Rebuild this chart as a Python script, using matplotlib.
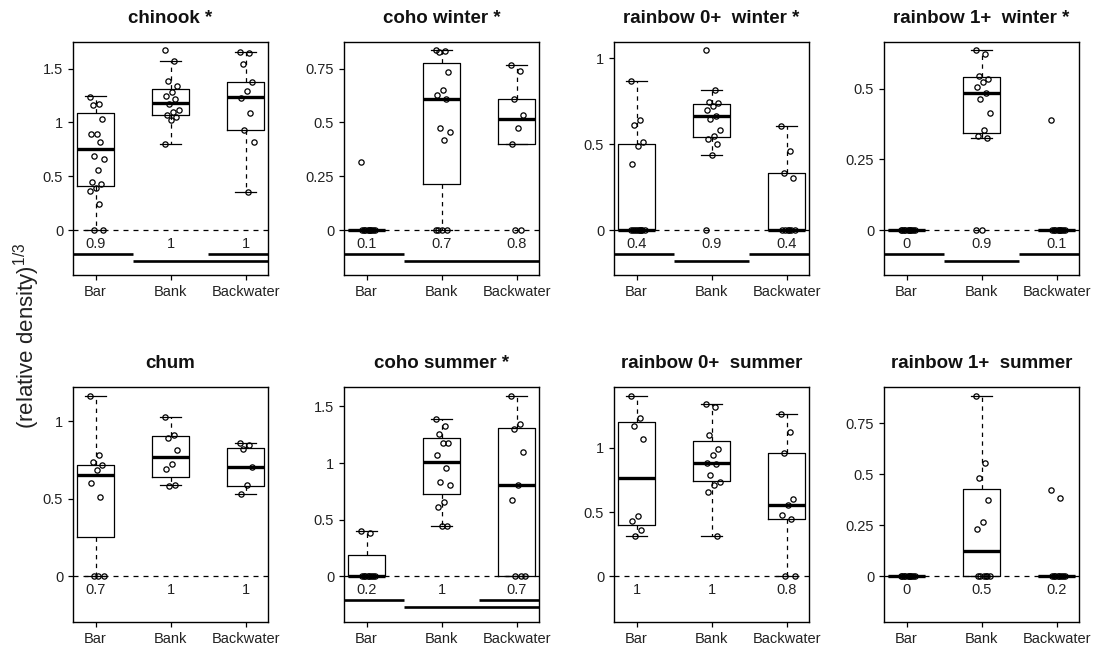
import matplotlib
matplotlib.use('Agg')
import matplotlib.pyplot as plt
from matplotlib.transforms import offset_copy

plt.rcParams['font.family'] = ['Liberation Sans', 'DejaVu Sans']
plt.rcParams['mathtext.fontset'] = 'custom'
plt.rcParams['mathtext.rm'] = 'Liberation Sans'
plt.rcParams['mathtext.it'] = 'Liberation Sans:italic'

habitats = ['Bar', 'Bank', 'Backwater']

# ---------------- data (cube-root relative density) ----------------
titles = ['chinook *', 'coho winter *', 'rainbow 0+  winter *', 'rainbow 1+  winter *',
          'chum', 'coho summer *', 'rainbow 0+  summer', 'rainbow 1+  summer']

# points per habitat: Bar, Bank, Backwater
chinook_pts = [
    [1.237, 1.169, 1.16, 1.03, 0.897, 0.897, 0.82, 0.687, 0.656, 0.557, 0.448, 0.427, 0.387, 0.365, 0.247, 0, 0],
    [1.676, 1.568, 1.386, 1.336, 1.284, 1.243, 1.22, 1.17, 1.12, 1.098, 1.067, 1.05, 1.027, 0.804],
    [1.652, 1.645, 1.547, 1.376, 1.293, 1.231, 1.089, 0.934, 0.82, 0.356]]
coho_w_pts = [
    [0.314, 0, 0, 0, 0, 0, 0, 0, 0, 0],
    [0.835, 0.83, 0.827, 0.734, 0.653, 0.626, 0.608, 0.475, 0.456, 0.418, 0, 0, 0, 0],
    [0.769, 0.737, 0.608, 0.533, 0.472, 0.40, 0, 0]]
rb0_w_pts = [
    [0.865, 0.642, 0.609, 0.513, 0.487, 0.383, 0, 0, 0, 0, 0, 0, 0, 0, 0],
    [1.044, 0.816, 0.745, 0.74, 0.72, 0.70, 0.663, 0.648, 0.584, 0.545, 0.532, 0.499, 0.439, 0],
    [0.603, 0.46, 0.333, 0.30, 0, 0, 0, 0, 0, 0]]
rb1_w_pts = [
    [0, 0, 0, 0, 0, 0, 0, 0, 0, 0],
    [0.638, 0.624, 0.546, 0.535, 0.524, 0.506, 0.485, 0.462, 0.414, 0.353, 0.332, 0.327, 0, 0],
    [0.39, 0, 0, 0, 0, 0, 0, 0, 0, 0]]
chum_pts = [
    [1.166, 0.781, 0.738, 0.72, 0.684, 0.604, 0.512, 0, 0, 0],
    [1.028, 0.91, 0.895, 0.813, 0.723, 0.695, 0.59, 0.585],
    [0.86, 0.845, 0.824, 0.705, 0.591, 0.533]]
coho_s_pts = [
    [0.40, 0.382, 0, 0, 0, 0, 0, 0, 0, 0],
    [1.391, 1.326, 1.259, 1.18, 1.18, 1.071, 0.956, 0.829, 0.803, 0.656, 0.61, 0.444, 0.444],
    [1.588, 1.347, 1.303, 1.097, 0.809, 0.671, 0, 0, 0]]
rb0_s_pts = [
    [1.408, 1.236, 1.169, 1.073, 0.468, 0.429, 0.358, 0.312],
    [1.345, 1.32, 1.099, 0.995, 0.948, 0.883, 0.873, 0.792, 0.735, 0.71, 0.657, 0.312],
    [1.262, 1.125, 0.964, 0.605, 0.558, 0.48, 0.45, 0, 0]]
rb1_s_pts = [
    [0, 0, 0, 0, 0, 0, 0, 0, 0, 0],
    [0.884, 0.555, 0.483, 0.372, 0.266, 0.233, 0, 0, 0, 0, 0, 0],
    [0.424, 0.385, 0, 0, 0, 0, 0, 0, 0, 0]]

# box stats per habitat: (whisker low, Q1, median, Q3, whisker high)
chinook_box = [(0, 0.408, 0.752, 1.089, 1.243), (0.804, 1.067, 1.18, 1.315, 1.568), (0.356, 0.934, 1.237, 1.376, 1.652)]
coho_w_box = [(0, 0, 0, 0, 0), (0, 0.212, 0.608, 0.778, 0.835), (0.402, 0.402, 0.515, 0.608, 0.769)]
rb0_w_box = [(0, 0, 0, 0.499, 0.865), (0.439, 0.542, 0.663, 0.731, 0.816), (0, 0, 0, 0.333, 0.603)]
rb1_w_box = [(0, 0, 0, 0, 0), (0.327, 0.344, 0.485, 0.541, 0.638), (0, 0, 0, 0, 0)]
chum_box = [(0, 0.254, 0.656, 0.72, 1.166), (0.587, 0.641, 0.77, 0.903, 1.028), (0.533, 0.583, 0.705, 0.828, 0.86)]
coho_s_box = [(0, 0, 0, 0.191, 0.40), (0.444, 0.724, 1.009, 1.224, 1.391), (0, 0, 0.809, 1.309, 1.588)]
rb0_s_box = [(0.312, 0.397, 0.769, 1.203, 1.408), (0.312, 0.743, 0.883, 1.052, 1.345), (0, 0.444, 0.558, 0.964, 1.262)]
rb1_s_box = [(0, 0, 0, 0, 0), (0, 0, 0.122, 0.426, 0.884), (0, 0, 0, 0, 0)]

# proportion of non-zero samples
chinook_prop = ['0.9', '1', '1']
coho_w_prop = ['0.1', '0.7', '0.8']
rb0_w_prop = ['0.4', '0.9', '0.4']
rb1_w_prop = ['0', '0.9', '0.1']
chum_prop = ['0.7', '1', '1']
coho_s_prop = ['0.2', '1', '0.7']
rb0_s_prop = ['1', '1', '0.8']
rb1_s_prop = ['0', '0.5', '0.2']

# significance groups
chinook_grp = ['a', 'b', 'ab']
coho_w_grp = ['a', 'b', 'b']
rb0_w_grp = ['a', 'b', 'a']
rb1_w_grp = ['a', 'b', 'a']
coho_s_grp = ['a', 'b', 'ab']

# y ticks
chinook_yt = [0, 0.5, 1, 1.5]
coho_w_yt = [0, 0.25, 0.5, 0.75]
rb0_w_yt = [0, 0.5, 1]
rb1_w_yt = [0, 0.25, 0.5]
chum_yt = [0, 0.5, 1]
coho_s_yt = [0, 0.5, 1, 1.5]
rb0_s_yt = [0, 0.5, 1]
rb1_s_yt = [0, 0.25, 0.5, 0.75]

panels = [
    (chinook_pts, chinook_box, chinook_prop, chinook_grp, chinook_yt),
    (coho_w_pts, coho_w_box, coho_w_prop, coho_w_grp, coho_w_yt),
    (rb0_w_pts, rb0_w_box, rb0_w_prop, rb0_w_grp, rb0_w_yt),
    (rb1_w_pts, rb1_w_box, rb1_w_prop, rb1_w_grp, rb1_w_yt),
    (chum_pts, chum_box, chum_prop, None, chum_yt),
    (coho_s_pts, coho_s_box, coho_s_prop, coho_s_grp, coho_s_yt),
    (rb0_s_pts, rb0_s_box, rb0_s_prop, None, rb0_s_yt),
    (rb1_s_pts, rb1_s_box, rb1_s_prop, None, rb1_s_yt),
]

# ---------------- layout ----------------
ylims = [(-0.4175, 1.748), (-0.209, 0.874), (-0.261, 1.093), (-0.159, 0.665),
         (-0.295, 1.222), (-0.403, 1.671), (-0.356, 1.475), (-0.224, 0.927)]
col_left = [73, 344, 614, 884]
col_w = 195
row_top = [42, 387]
row_h = [233, 235]
W, H = 1100, 648

fig = plt.figure(figsize=(11, 6.48), dpi=100)
fig.patch.set_facecolor('white')

lw_box = 0.9
for k, (pts, box, prop, grp, yt) in enumerate(panels):
    r, c = divmod(k, 4)
    ax = fig.add_axes([col_left[c] / W, 1 - (row_top[r] + row_h[r]) / H, col_w / W, row_h[r] / H])
    ax.set_xlim(0.7, 3.3)
    ax.set_ylim(*ylims[k])

    ax.axhline(0, color='k', lw=0.9, ls=(0, (4, 4)), zorder=1)

    stats = [dict(whislo=b[0], q1=b[1], med=b[2], q3=b[3], whishi=b[4], fliers=[]) for b in box]
    ax.bxp(stats, positions=[1, 2, 3], widths=0.5, capwidths=0.27, showfliers=False,
           boxprops=dict(color='k', lw=lw_box),
           whiskerprops=dict(color='k', lw=lw_box, linestyle=(0, (3.5, 3.5))),
           capprops=dict(color='k', lw=lw_box),
           medianprops=dict(color='k', lw=2.4, solid_capstyle='butt'),
           manage_ticks=False, zorder=2)

    # deterministic jitter for the points
    for i, vals in enumerate(pts):
        xs = [i + 1 + 0.10 * (((j * 0.6180339) % 1.0) * 2 - 1) + 0.02 for j in range(len(vals))]
        ax.plot(xs, vals, 'o', mfc='none', mec='k', ms=3.8, mew=0.9, zorder=3)

    for i, p in enumerate(prop):
        ax.annotate(p, (i + 1, 0), xytext=(0, -14), textcoords='offset pixels',
                    ha='center', va='center', fontsize=10.5, color='#222222')

    if grp is not None:
        for lvl, letter in enumerate(['a', 'b']):
            trans = offset_copy(ax.transData, fig=fig, x=0, y=-24 - 7 * lvl, units='dots')
            member = [letter in g for g in grp]
            i = 0
            while i < 3:
                if member[i]:
                    j = i
                    while j + 1 < 3 and member[j + 1]:
                        j += 1
                    ax.plot([i + 1 - 0.5, j + 1 + 0.5], [0, 0], color='k', lw=1.9,
                            solid_capstyle='butt', transform=trans, zorder=2)
                    i = j + 1
                else:
                    i += 1

    ax.set_xticks([1, 2, 3])
    ax.set_xticklabels(habitats)
    ax.set_yticks(yt)
    ax.set_yticklabels(['%g' % v for v in yt])
    ax.tick_params(direction='out', length=3.6, width=0.9, labelsize=10.5, pad=3.5,
                   colors='k', labelcolor='#222222')
    for s in ax.spines.values():
        s.set_linewidth(1.0)
    ax.set_title(titles[k], fontsize=13.5, fontweight='bold', pad=13.5, color='#111111')

fig.text(0.024, 0.482, r'(relative density)$^{\mathrm{1/3}}$', rotation=90,
         ha='center', va='center', fontsize=16, color='#222222')

fig.savefig('out.png', dpi=100, facecolor='white')
